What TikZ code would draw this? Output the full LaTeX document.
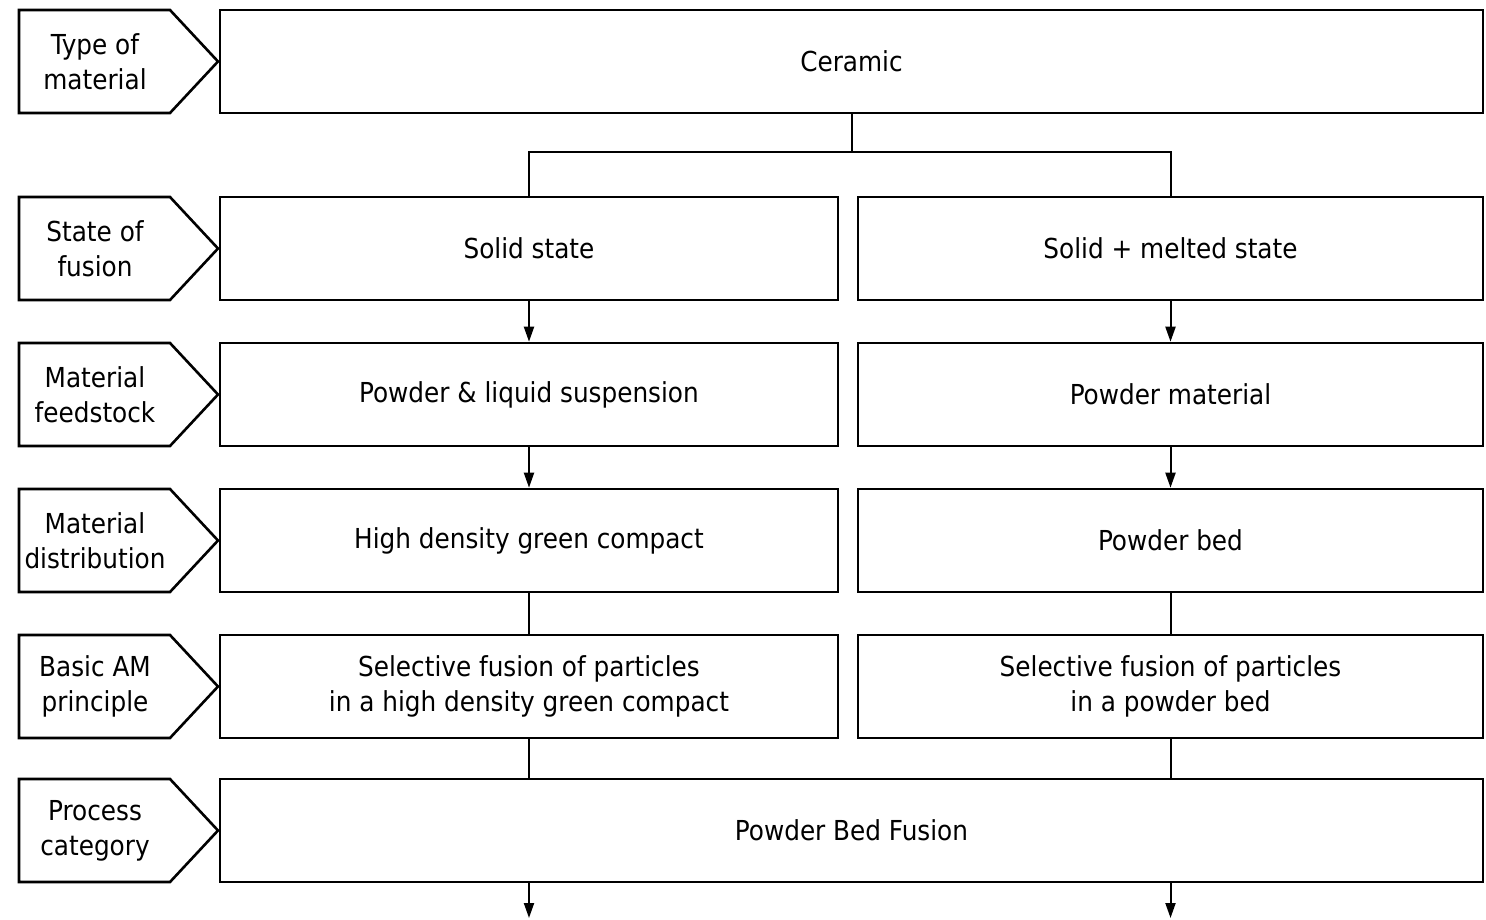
\documentclass[tikz,border=0pt]{standalone}
\usepackage{fontspec}
\setmainfont{DejaVu Sans Condensed}
\usepackage{tikz}
\usetikzlibrary{arrows.meta,positioning,calc}
\tikzset{
  box/.style={draw, line width=2.6pt, minimum height=103pt, inner sep=0pt, align=center,
              font=\fontsize{27.5}{35}\selectfont},
  tag/.style={draw, line width=2.6pt, line join=miter},
  tagtext/.style={align=center, inner sep=0pt, font=\fontsize{27.5}{35}\selectfont},
  link/.style={line width=2pt},
  flow/.style={-{Triangle[length=15pt,width=10pt]}, line width=2pt},
}
\def\cL{529}
\def\cR{1170.5}
\def\cM{851.5}
\def\yA{61.5}
\def\yB{248.5}
\def\yC{394.5}
\def\yD{540.5}
\def\yE{686.5}
\def\yF{830.5}
\newcommand{\stage}[3]{%
  \draw[tag] (19,#2-51.5) -- (170,#2-51.5) -- (218,#2) -- (170,#2+51.5) -- (19,#2+51.5) -- cycle;
  \node[tagtext] (#1) at (95,#2) {#3};}
\begin{document}
\begin{tikzpicture}[x=1pt,y=-1pt]
  \useasboundingbox (0,0) rectangle (1486,920);
  \stage{tmat}{\yA}{Type of\\material}
  \stage{tfus}{\yB}{State of\\fusion}
  \stage{tfeed}{\yC}{Material\\feedstock}
  \stage{tdist}{\yD}{Material\\distribution}
  \stage{tprin}{\yE}{Basic AM\\principle}
  \stage{tcat}{\yF}{Process\\category}
  \node[box, minimum width=1263pt] (ceramic) at (\cM,\yA) {Ceramic};
  \node[box, minimum width=618pt] (solid) at (\cL,\yB) {Solid state};
  \node[box, minimum width=625pt] (melted) at (\cR,\yB) {Solid + melted state};
  \node[box, minimum width=618pt] (suspension) at (\cL,\yC) {Powder \& liquid suspension};
  \node[box, minimum width=625pt] (powder) at (\cR,\yC) {Powder material};
  \node[box, minimum width=618pt] (compact) at (\cL,\yD) {High density green compact};
  \node[box, minimum width=625pt] (bed) at (\cR,\yD) {Powder bed};
  \node[box, minimum width=618pt] (fusecompact) at (\cL,\yE) {Selective fusion of particles\\in a high density green compact};
  \node[box, minimum width=625pt] (fusebed) at (\cR,\yE) {Selective fusion of particles\\in a powder bed};
  \node[box, minimum width=1263pt] (pbf) at (\cM,\yF) {Powder Bed Fusion};
  \coordinate (split) at (\cM,152);
  \coordinate (outL) at (\cL,918);
  \coordinate (outR) at (\cR,918);
  \draw[link] (ceramic.south) -- (split) -| (solid.north);
  \draw[link] (split) -| (melted.north);
  \draw[flow] (solid) -- (suspension); \draw[flow] (melted) -- (powder);
  \draw[flow] (suspension) -- (compact); \draw[flow] (powder) -- (bed);
  \draw[link] (compact) -- (fusecompact); \draw[link] (bed) -- (fusebed);
  \draw[link] (fusecompact.south) -- (fusecompact.south |- pbf.north);
  \draw[link] (fusebed.south) -- (fusebed.south |- pbf.north);
  \draw[flow] (outL |- pbf.south) -- (outL);
  \draw[flow] (outR |- pbf.south) -- (outR);
\end{tikzpicture}
\end{document}
